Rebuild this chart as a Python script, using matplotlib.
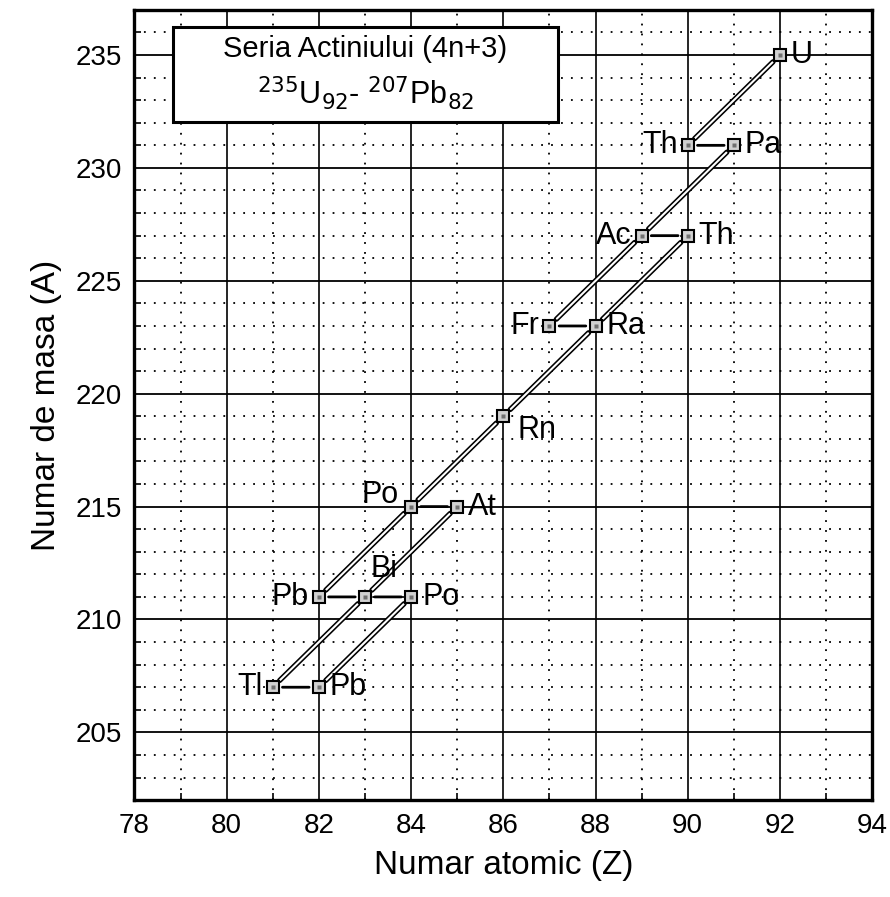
import matplotlib
matplotlib.use('Agg')
import matplotlib.pyplot as plt
import numpy as np

plt.rcParams['font.family'] = ['Liberation Sans', 'DejaVu Sans']

# nuclizi din seria actiniului
elemente = ['U', 'Th', 'Pa', 'Ac', 'Th', 'Fr', 'Ra', 'Rn', 'Po', 'At', 'Pb', 'Bi', 'Po', 'Tl', 'Pb']
Z = [92, 90, 91, 89, 90, 87, 88, 86, 84, 85, 82, 83, 84, 81, 82]
A = [235, 231, 231, 227, 227, 223, 223, 219, 215, 215, 211, 211, 211, 207, 207]

# dezintegrari (indice parinte, indice fiu)
alfa = [(0, 1), (2, 3), (3, 5), (4, 6), (6, 7), (7, 8), (8, 10), (9, 11), (11, 13), (12, 14)]
beta = [(1, 2), (3, 4), (5, 6), (8, 9), (10, 11), (11, 12), (13, 14)]

# pozitia etichetei fata de marker
pozitii = ['right', 'left', 'right', 'left', 'right', 'left', 'right', 'below',
           'above', 'right', 'left', 'above', 'right', 'left', 'right']

x_ticks = np.arange(78, 95, 2)
y_ticks = np.arange(205, 236, 5)

fig = plt.figure(figsize=(8.9, 8.97), dpi=100)
ax = fig.add_axes([0.151, 0.108, 0.829, 0.881])

ax.set_xlim(78, 94)
ax.set_ylim(202, 237)

# grila
for x in np.arange(79, 94, 2):
    ax.axvline(x, color='black', lw=1.3, ls=(0, (1, 4.5)), zorder=1)
for y in np.arange(203, 237, 1):
    if y % 5 != 0:
        ax.axhline(y, color='black', lw=1.3, ls=(0, (1, 4.5)), zorder=1)
for x in x_ticks[1:-1]:
    ax.axvline(x, color='black', lw=1.2, zorder=1)
for y in y_ticks:
    ax.axhline(y, color='black', lw=1.3, zorder=1)

# dezintegrari alfa (linii duble)
for i, j in alfa:
    ax.annotate('', xy=(Z[j], A[j]), xytext=(Z[i], A[i]),
                arrowprops=dict(arrowstyle='-', color='black', lw=3.8, shrinkA=7, shrinkB=7),
                zorder=3)
    ax.annotate('', xy=(Z[j], A[j]), xytext=(Z[i], A[i]),
                arrowprops=dict(arrowstyle='-', color='white', lw=1.5, shrinkA=7.5, shrinkB=7.5),
                zorder=3)

# dezintegrari beta
for i, j in beta:
    ax.annotate('', xy=(Z[j], A[j]), xytext=(Z[i], A[i]),
                arrowprops=dict(arrowstyle='-', color='black', lw=2.0, shrinkA=7, shrinkB=7),
                zorder=3)

ax.plot(Z, A, 's', ms=8.5, mfc='#d0d0d0', mec='black', mew=1.5, ls='none', zorder=4)
ax.plot(Z, A, 's', ms=3, mfc='#707070', mec='none', ls='none', zorder=5)

fs = 22
for nume, z, a, p in zip(elemente, Z, A, pozitii):
    if p == 'right':
        ax.annotate(nume, (z, a), xytext=(8, 0), textcoords='offset points',
                    ha='left', va='center', fontsize=fs)
    elif p == 'left':
        ax.annotate(nume, (z, a), xytext=(-7, 0), textcoords='offset points',
                    ha='right', va='center', fontsize=fs)
    elif p == 'below':
        ax.annotate(nume, (z, a), xytext=(10, -10), textcoords='offset points',
                    ha='left', va='center', fontsize=fs)
    else:
        if nume == 'Po':
            ax.annotate(nume, (z, a), xytext=(-9, 8), textcoords='offset points',
                        ha='right', va='center', fontsize=fs)
        else:
            ax.annotate(nume, (z, a), xytext=(4, 20), textcoords='offset points',
                        ha='left', va='center', fontsize=fs)

# caseta cu titlul
ax.add_patch(plt.Rectangle((0.052, 0.858), 0.522, 0.12, transform=ax.transAxes,
                           facecolor='white', edgecolor='black', lw=2.2, zorder=6))
ax.text(0.313, 0.951, 'Seria Actiniului (4n+3)', transform=ax.transAxes,
        ha='center', va='center', fontsize=21, zorder=7)
ax.text(0.313, 0.894, r'$^{235}$U$_{92}$- $^{207}$Pb$_{82}$', transform=ax.transAxes,
        ha='center', va='center', fontsize=22, zorder=7)

ax.set_xticks(x_ticks)
ax.set_yticks(y_ticks)
ax.set_xticks(np.arange(79, 94, 2), minor=True)
ax.set_yticks(np.arange(203, 237, 1), minor=True)
ax.tick_params(which='major', direction='in', length=0, labelsize=20, pad=9)
ax.tick_params(which='minor', direction='in', length=5, width=1.2)

for s in ax.spines.values():
    s.set_linewidth(2.4)

ax.set_xlabel('Numar atomic (Z)', fontsize=24, labelpad=8)
ax.set_ylabel('Numar de masa (A)', fontsize=24, labelpad=10)

plt.savefig('out.png', dpi=100)
